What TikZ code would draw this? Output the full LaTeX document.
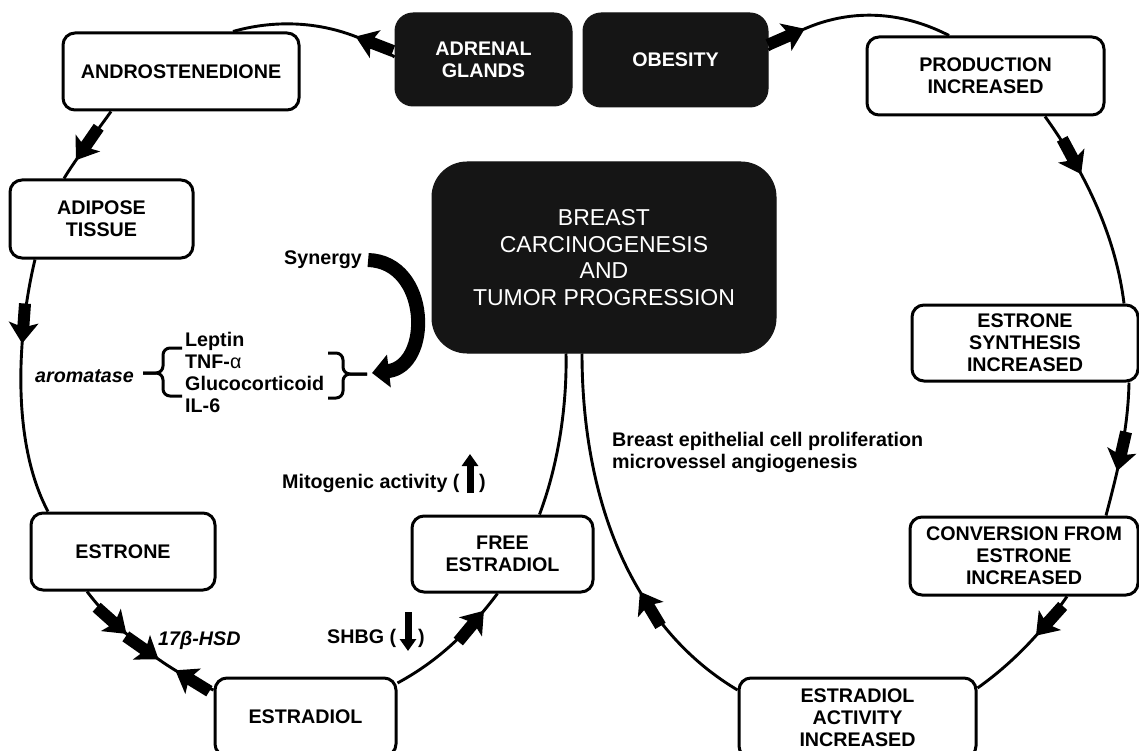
\documentclass[tikz,border=0pt]{standalone}
\usepackage{fontspec}
\setmainfont{Liberation Sans}
\usetikzlibrary{arrows.meta,decorations.markings}
\definecolor{boxblack}{HTML}{151515}
\newcommand\boxfont{\fontsize{19.7}{22}\selectfont\bfseries}
\newcommand\bigfont{\fontsize{23}{26.7}\selectfont}
\newcommand\fatarrowshape{\fill (-40,-6) -- (-18,-6) -- (-21,-15) -- (0,0) -- (-21,15) -- (-18,6) -- (-40,6) -- cycle;}
\tikzset{
  wbox/.style={draw=black, line width=3pt, rounded corners=12pt, fill=white, align=center, font=\boxfont, inner sep=0pt},
  bbox/.style={fill=boxblack, draw=boxblack, line width=1pt, rounded corners=18pt, text=white, align=center, font=\boxfont, inner sep=0pt},
  txt/.style={font=\boxfont, inner sep=0pt},
  conn/.style={line width=2.9pt},
  bracepath/.style={line width=3pt, rounded corners=7pt},
  fatat/.style={postaction={decorate,decoration={markings,mark=at position #1 with {\fatarrowshape}}}},
  fatrev/.style={postaction={decorate,decoration={markings,mark=at position #1 with {\begin{scope}[rotate=180]\fatarrowshape\end{scope}}}}},
  updown/.style={line width=7pt,-{Triangle[length=12pt,width=16pt]}},
}
\begin{document}
\begin{tikzpicture}[x=1pt,y=-1pt]
\useasboundingbox (0,0) rectangle (1139,751);
% boxes
\node[wbox, minimum width=236pt, minimum height=77pt] (andro) at (181,71.5) {ANDROSTENEDIONE};
\node[bbox, minimum width=177pt, minimum height=93pt] (adrenal) at (483.5,59.5) {ADRENAL\\GLANDS};
\node[bbox, minimum width=185pt, minimum height=94pt] (obesity) at (675.5,60) {OBESITY};
\node[wbox, minimum width=237pt, minimum height=78pt] (production) at (985.5,76) {PRODUCTION\\INCREASED};
\node[wbox, minimum width=183pt, minimum height=78pt] (adipose) at (101.5,219) {ADIPOSE\\TISSUE};
\node[bbox, font=\bigfont, rounded corners=35pt, minimum width=344pt, minimum height=191pt] (central) at (604,257.5) {BREAST\\CARCINOGENESIS\\AND\\TUMOR PROGRESSION};
\node[wbox, minimum width=226pt, minimum height=76pt] (esynth) at (1025,343) {ESTRONE\\SYNTHESIS\\INCREASED};
\node[wbox, minimum width=228pt, minimum height=78pt] (conversion) at (1024,556) {CONVERSION FROM\\ESTRONE\\INCREASED};
\node[wbox, minimum width=237pt, minimum height=80pt] (eact) at (857.5,718) {ESTRADIOL\\ACTIVITY\\INCREASED};
\node[wbox, minimum width=184pt, minimum height=77pt] (estrone) at (123,551.5) {ESTRONE};
\node[wbox, minimum width=181pt, minimum height=76pt] (free) at (502.5,554) {FREE\\ESTRADIOL};
\node[wbox, minimum width=181pt, minimum height=78pt] (estradiol) at (305.5,717) {ESTRADIOL};
% texts
\node[txt, anchor=west] (syn) at (284,260) {Synergy};
\node[txt, anchor=west, align=left] (list) at (185,372) {Leptin\\TNF-{\mdseries α}\\Glucocorticoid\\IL-6};
\node[txt, font=\boxfont\itshape, anchor=east] (arom) at (134,376) {aromatase};
\node[txt, font=\boxfont\itshape, anchor=west] (hsd) at (158,640) {17β-HSD};
\node[txt, anchor=west] (shbg) at (327,638) {SHBG (};
\node[txt, anchor=west] (shbgc) at (418,638) {)};
\node[txt, anchor=west] (mit) at (282,483) {Mitogenic activity (};
\node[txt, anchor=west] (mitc) at (479,483) {)};
\node[txt, anchor=west, align=left] (bep) at (612,452) {Breast epithelial cell proliferation\\microvessel angiogenesis};
% braces
\draw[bracepath] (182,348) -- (163,348) -- (163,373) -- (143,373);
\draw[bracepath] (182,396) -- (163,396) -- (163,373) -- (143,373);
\draw[bracepath] (328,353) -- (343,353) -- (343,374) -- (367,374);
\draw[bracepath] (328,398) -- (343,398) -- (343,374) -- (367,374);
% synergy arrow
\coordinate (syntip) at (372,373);
\draw[line width=14pt, -{Triangle[length=17pt,width=32pt]}] ([xshift=6pt]syn.east) .. controls (430,262) and (432,366) .. (syntip);
% small up/down arrows
\coordinate (mitA) at (470,493);
\coordinate (mitB) at (470,454);
\draw[updown] (mitA) -- (mitB);
\coordinate (shA) at (408,612);
\coordinate (shB) at (408,651);
\draw[updown] (shA) -- (shB);
% left loop
\draw[conn, fatat=44pt] ([yshift=2.5pt]adrenal.west) .. controls (340,20) and (280,18) .. ([xshift=52pt]andro.north);
\draw[conn, fatat=60pt] ([xshift=-70pt]andro.south) .. controls (100,127) and (75,160) .. ([xshift=-37.5pt]adipose.north);
\draw[conn, fatat=85pt] ([xshift=-66.5pt]adipose.south) .. controls (18,330) and (10,440) .. ([xshift=-75pt]estrone.north);
\draw[conn, fatat=58pt, fatat=99pt, fatrev=119pt] ([xshift=-36pt]estrone.south) .. controls (120,635) and (170,672) .. ([yshift=27pt]estradiol.west);
\draw[conn, fatat=-22pt] ([yshift=34pt]estradiol.east) .. controls (440,660) and (470,630) .. ([xshift=-5pt]free.south);
\draw[conn] ([xshift=37pt]free.north) .. controls (560,460) and (567,400) .. ([xshift=-38pt]central.south);
% right loop
\draw[conn, fatat=42pt] ([yshift=10pt]obesity.east) .. controls (815,15) and (880,0) .. ([xshift=-36.5pt]production.north);
\draw[conn, fatat=68pt] ([xshift=59.5pt]production.south) .. controls (1080,165) and (1115,230) .. ([xshift=99pt]esynth.north);
\draw[conn, fatat=-46pt] ([xshift=104pt]esynth.south) .. controls (1128,430) and (1118,470) .. ([xshift=82pt]conversion.north);
\draw[conn, fatat=50pt] ([xshift=43pt]conversion.south) .. controls (1040,635) and (1010,665) .. ([yshift=30pt]eact.east);
\draw[conn, fatat=140pt] ([yshift=28pt]eact.west) .. controls (620,620) and (582,480) .. ([xshift=-22pt]central.south);
\end{tikzpicture}
\end{document}
